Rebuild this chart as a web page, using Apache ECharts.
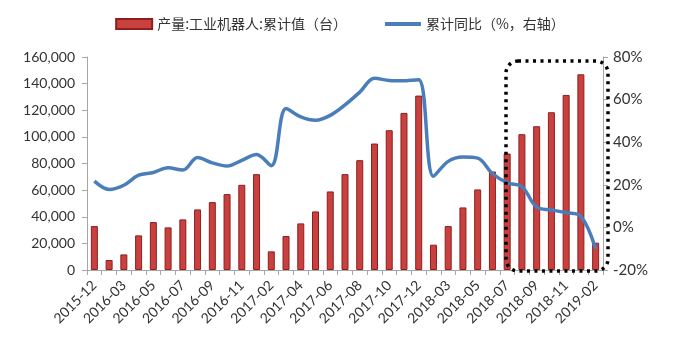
<!DOCTYPE html>
<html>
<head>
<meta charset="utf-8">
<script src="https://cdn.jsdelivr.net/npm/echarts@6/dist/echarts.min.js"></script>
<style>html,body{margin:0;padding:0;background:#fff;}#c{width:680px;height:342px;}</style>
</head>
<body>
<div id="c"></div>
<script>
var categories = ["2015-12","2016-02","2016-03","2016-04","2016-05","2016-06","2016-07","2016-08","2016-09","2016-10","2016-11","2016-12",
"2017-02","2017-03","2017-04","2017-05","2017-06","2017-07","2017-08","2017-09","2017-10","2017-11","2017-12",
"2018-02","2018-03","2018-04","2018-05","2018-06","2018-07","2018-08","2018-09","2018-10","2018-11","2018-12","2019-02"];
var production = [33000,7500,11700,26000,36000,32000,38000,45500,51000,57000,64000,72000,
14000,25500,35000,44000,59000,72000,82500,95000,105000,118000,131000,
19000,33000,47000,60500,74000,87500,102000,108000,118500,131500,147000,20500];
var yoy = [21.7,17.8,19.8,24.5,25.8,28.0,26.9,32.8,30.3,28.8,31.5,34.2,
29.0,55.8,51.9,50.3,52.6,57.5,63.5,70.0,69.0,68.8,69.3,
24.0,31.0,33.0,32.5,25.3,20.9,19.2,9.5,8.2,6.9,5.2,-10.0];
var leftTicks = {min:0, max:160000, interval:20000};
var rightTicks = {min:-20, max:80, interval:20};
var legendNames = ["产量:工业机器人:累计值（台）","累计同比（%，右轴）"];

var chart = echarts.init(document.getElementById('c'), null, {renderer:'canvas'});
var numFont = 'Lato, "Liberation Sans", sans-serif';
var cjkFont = '"Noto Sans CJK SC", sans-serif';
var axisGray = '#A6A6A6';
chart.setOption({
  animation:false,
  backgroundColor:'#fff',
  legend:{
    top:12, left:'center',
    itemWidth:36, itemHeight:10, itemGap:38,
    textStyle:{fontFamily:cjkFont, fontSize:14, color:'#333'},
    data:[{name:legendNames[0], icon:'rect'},{name:legendNames[1], icon:'path://M0,0 L36,0 L36,4 L0,4 Z', itemStyle:{color:'#4A7EBB'}}]
  },
  grid:{left:87, right:77, top:57, bottom:72},
  xAxis:{
    type:'category', data:categories,
    axisLine:{lineStyle:{color:axisGray}},
    axisTick:{show:true, interval:0, alignWithLabel:false, length:5, lineStyle:{color:axisGray}},
    axisLabel:{interval:1, rotate:45, fontFamily:numFont, fontSize:14, color:'#333', margin:13}
  },
  yAxis:[{
    type:'value', min:leftTicks.min, max:leftTicks.max, interval:leftTicks.interval,
    splitLine:{show:false},
    axisLine:{show:true, lineStyle:{color:axisGray}},
    axisTick:{show:true, length:5, lineStyle:{color:axisGray}},
    axisLabel:{fontFamily:numFont, fontSize:14, color:'#333', margin:12,
      formatter:function(v){return v.toLocaleString('en-US');}}
  },{
    type:'value', min:rightTicks.min, max:rightTicks.max, interval:rightTicks.interval,
    splitLine:{show:false},
    axisLine:{show:true, lineStyle:{color:axisGray}},
    axisTick:{show:true, length:5, lineStyle:{color:axisGray}},
    axisLabel:{fontFamily:numFont, fontSize:15, color:'#333', margin:10, formatter:'{value}%'}
  }],
  series:[{
    name:legendNames[0], type:'bar', data:production, yAxisIndex:0,
    barWidth:7,
    itemStyle:{color:'#C8413F', borderColor:'#8E1E1E', borderWidth:1}
  },{
    name:legendNames[1], type:'line', data:yoy, yAxisIndex:1,
    smooth:0.35, symbol:'none',
    lineStyle:{color:'#4A7EBB', width:3.5},
    itemStyle:{color:'#4A7EBB'},
    z:3
  }],
  graphic:[{
    type:'rect', z:100,
    shape:{x:506, y:61, width:102, height:210, r:12},
    style:{fill:'none', stroke:'#000', lineWidth:3.5, lineDash:[3,4.5]}
  }]
});
</script>
</body>
</html>
